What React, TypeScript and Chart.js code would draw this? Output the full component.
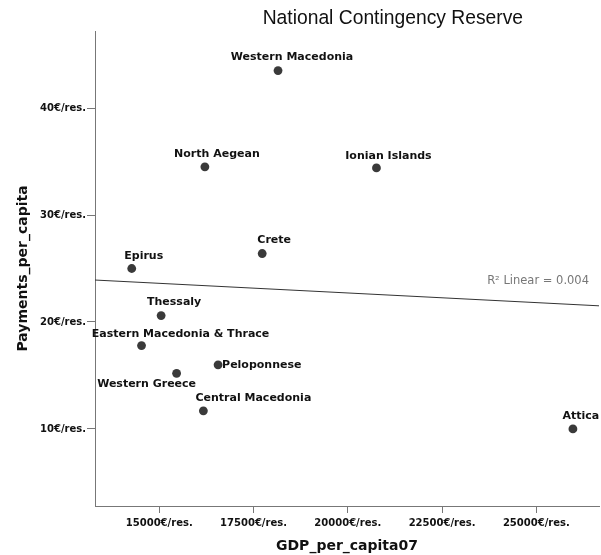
import React, { useEffect, useRef } from "react";
import { Chart, registerables } from "chart.js";

Chart.register(...registerables);

// ---- data ----
const regions = [
  "Western Macedonia",
  "North Aegean",
  "Ionian Islands",
  "Crete",
  "Epirus",
  "Thessaly",
  "Eastern Macedonia & Thrace",
  "Western Greece",
  "Peloponnese",
  "Central Macedonia",
  "Attica",
];
const gdpPerCapita07 = [18150, 16210, 20760, 17730, 14270, 15050, 14530, 15460, 16560, 16170, 25970];
const paymentsPerCapita = [43.5, 34.5, 34.4, 26.4, 25.0, 20.6, 17.8, 15.2, 16.0, 11.7, 10.0];
const xTickValues = [15000, 17500, 20000, 22500, 25000];
const yTickValues = [10, 20, 30, 40];
const tickSuffix = "€/res.";
const chartTitle = "National Contingency Reserve";
const xTitle = "GDP_per_capita07";
const yTitle = "Payments_per_capita";
const r2Text = "R² Linear = 0.004";

// ---- label placement (style, px offsets from the point) ----
const labelPlacement: [number, number, CanvasTextAlign][] = [
  [14, -13, "center"],
  [12, -13, "center"],
  [12, -12, "center"],
  [12, -13, "center"],
  [12, -12, "center"],
  [13, -13, "center"],
  [39, -11, "center"],
  [-30, 11, "center"],
  [4, 0, "left"],
  [50, -13, "center"],
  [8, -13, "center"],
];

const X_MIN = 13296;
const X_MAX = 26662;
const Y_MIN = 2.8;
const Y_MAX = 47.2;

function linearFit(xs: number[], ys: number[]) {
  const n = xs.length;
  const mx = xs.reduce((a, b) => a + b, 0) / n;
  const my = ys.reduce((a, b) => a + b, 0) / n;
  let sxy = 0;
  let sxx = 0;
  for (let i = 0; i < n; i++) {
    sxy += (xs[i] - mx) * (ys[i] - my);
    sxx += (xs[i] - mx) * (xs[i] - mx);
  }
  const b = sxy / sxx;
  const a = my - b * mx;
  return { a, b };
}

const FONT = "'DejaVu Sans', Verdana, sans-serif";

export default function App() {
  const ref = useRef<HTMLCanvasElement | null>(null);

  useEffect(() => {
    if (!ref.current) return;
    const { a, b } = linearFit(gdpPerCapita07, paymentsPerCapita);
    const fitLine = [
      { x: X_MIN, y: a + b * X_MIN },
      { x: X_MAX, y: a + b * X_MAX },
    ];

    const annotate = {
      id: "annotate",
      afterDatasetsDraw(chart: any) {
        const { ctx, chartArea } = chart;
        const meta = chart.getDatasetMeta(1);
        ctx.save();
        // point labels
        ctx.font = `bold 11px ${FONT}`;
        ctx.fillStyle = "#111";
        ctx.textBaseline = "middle";
        meta.data.forEach((el: any, i: number) => {
          const [dx, dy, align] = labelPlacement[i];
          ctx.textAlign = align;
          ctx.fillText(regions[i], el.x + dx, el.y + dy);
        });
        // R2 label
        const xs = chart.scales.x;
        const ys = chart.scales.y;
        const rightVal = xs.getValueForPixel(chartArea.right);
        const lineY = ys.getPixelForValue(a + b * rightVal);
        ctx.font = `11.5px ${FONT}`;
        ctx.fillStyle = "#777";
        ctx.textAlign = "right";
        ctx.fillText(r2Text, chartArea.right - 10, lineY - 25);
        // title
        ctx.font = `19.3px 'Liberation Sans', Arial, sans-serif`;
        ctx.fillStyle = "#111";
        ctx.textAlign = "center";
        ctx.fillText(chartTitle, chartArea.left + (chartArea.right - chartArea.left) * 0.591, 19);
        ctx.restore();
      },
    };

    const chart = new Chart(ref.current, {
      type: "scatter",
      data: {
        datasets: [
          {
            type: "line",
            label: "fit",
            data: fitLine,
            borderColor: "#333",
            borderWidth: 1,
            pointRadius: 0,
            fill: false,
          } as any,
          {
            label: "regions",
            data: gdpPerCapita07.map((x, i) => ({ x, y: paymentsPerCapita[i] })),
            backgroundColor: "#3a3a3a",
            borderColor: "#3a3a3a",
            pointRadius: 4.4,
            borderWidth: 0,
          },
        ],
      },
      options: {
        animation: false,
        responsive: false,
        maintainAspectRatio: false,
        layout: { autoPadding: false, padding: { top: 31, right: 2, left: 0, bottom: 0 } },
        plugins: {
          legend: { display: false },
          tooltip: { enabled: false },
          title: { display: false },
        },
        scales: {
          x: {
            type: "linear",
            min: X_MIN,
            max: X_MAX,
            afterFit: (s: any) => {
              s.height = 49;
              s.paddingRight = 0;
            },
            afterBuildTicks: (s: any) => {
              s.ticks = xTickValues.map((v) => ({ value: v }));
            },
            ticks: {
              callback: (v: any) => `${v}${tickSuffix}`,
              font: { family: FONT, size: 10, weight: "bold" },
              color: "#111",
              padding: 4,
              maxRotation: 0,
              autoSkip: false,
            },
            grid: {
              drawOnChartArea: false,
              drawTicks: true,
              tickLength: 7,
              color: "#777",
            },
            border: { display: true, color: "#777", width: 1 },
            title: {
              display: true,
              text: xTitle,
              font: { family: FONT, size: 14, weight: "bold" },
              color: "#111",
              padding: { top: 0, bottom: 0 },
            },
          },
          y: {
            type: "linear",
            min: Y_MIN,
            max: Y_MAX,
            afterFit: (s: any) => {
              s.width = 95;
            },
            afterBuildTicks: (s: any) => {
              s.ticks = yTickValues.map((v) => ({ value: v }));
            },
            ticks: {
              callback: (v: any) => `${v}${tickSuffix}`,
              font: { family: FONT, size: 10, weight: "bold" },
              color: "#111",
              padding: 1,
              autoSkip: false,
            },
            grid: {
              drawOnChartArea: false,
              drawTicks: true,
              tickLength: 8,
              color: "#777",
            },
            border: { display: true, color: "#777", width: 1 },
            title: {
              display: true,
              text: yTitle,
              font: { family: FONT, size: 14, weight: "bold" },
              color: "#111",
              padding: { top: 15, bottom: 0 },
            },
          },
        },
      },
      plugins: [annotate],
    });
    return () => chart.destroy();
  }, []);

  return (
    <div style={{ position: "fixed", left: 0, top: 0, width: 601, height: 555, background: "#fff" }}>
      <canvas ref={ref} width={601} height={555} style={{ width: 601, height: 555 }} />
    </div>
  );
}
